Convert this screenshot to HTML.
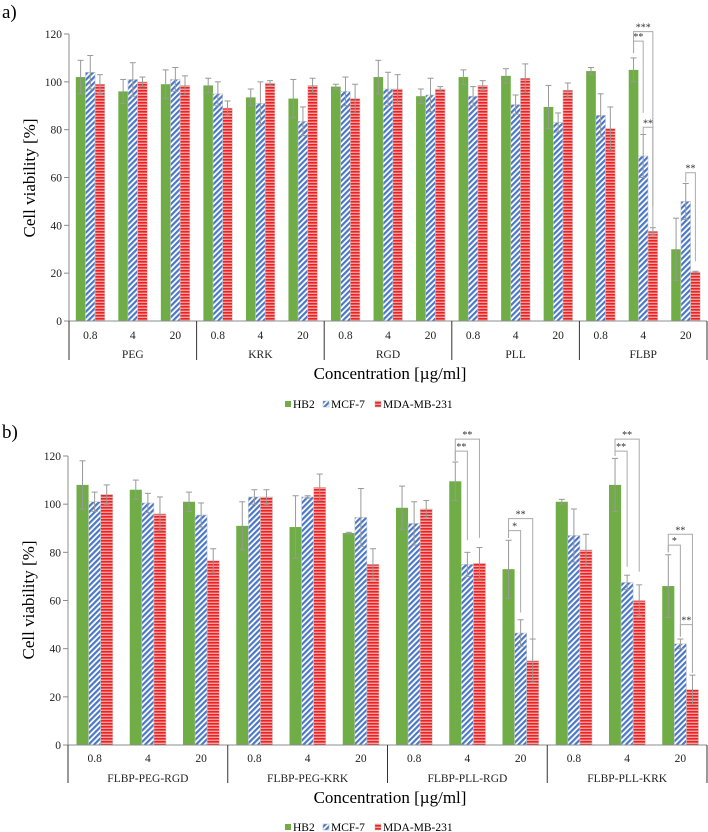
<!DOCTYPE html>
<html><head><meta charset="utf-8">
<style>
html,body{margin:0;padding:0;background:#fff;}
svg, svg text{font-family:"Liberation Serif","DejaVu Serif",serif;}
svg{display:block;}
</style></head>
<body>
<svg id="c" width="708" height="832" viewBox="0 0 708 832" xmlns="http://www.w3.org/2000/svg" font-family="Liberation Serif, DejaVu Serif, serif">
<defs>
<pattern id="pBlue" patternUnits="userSpaceOnUse" width="4" height="4" patternTransform="rotate(45)">
<rect width="4" height="4" fill="#fff"/><rect width="2.2" height="4" fill="#4a78c8"/>
</pattern>
<pattern id="pRed" patternUnits="userSpaceOnUse" width="4" height="3">
<rect width="4" height="3" fill="#f4a0a0"/><rect width="4" height="1.6" fill="#ee2020"/>
</pattern>
</defs>
<text x="2" y="18" font-size="19" font-family="Liberation Serif, serif">a)</text>
<text x="2" y="438" font-size="19" font-family="Liberation Serif, serif">b)</text>
</svg>
<script>
const seriesNames=["HB2","MCF-7","MDA-MB-231"];
const yTicks=[0,20,40,60,80,100,120];
const concLabels=["0.8","4","20"];
const catsA=["PEG","KRK","RGD","PLL","FLBP"];
const hb2A=[102,96,99,98.5,93.5,93,98,102,94,102,102.5,89.5,104.5,105,30];
const hb2ErrA=[7,5,6,3,3.5,8,1,7,3,3,3,9,1.5,5,13];
const mcfA=[104,101,101,95,91,83.5,96,97,94.5,94,90.5,83,86,69,50];
const mcfErrA=[7,7,5,5,9,6,6,7,7,4,4,4,9,9,7.5];
const mdaA=[99,100,98.5,89,99.5,98.5,93,97,97,98.5,101.5,96.5,80.5,37.5,20.5];
const mdaErrA=[4,2,4,3,1,3,6,6,1,2,6,3,9,1.5,0.3];
const sigA=[[13,0,1,117,112,87,"**"],[13,0,2,121,112,48,"***"],[13,1,2,81,78,39,"**"],[14,1,2,62,58,25,"**"]];
const catsB=["FLBP-PEG-RGD","FLBP-PEG-KRK","FLBP-PLL-RGD","FLBP-PLL-KRK"];
const hb2B=[108,106,101,91,90.5,88,98.5,109.5,73,101,108,66];
const hb2ErrB=[10,4,4,10,13,0.3,9,8,12,1,11,13];
const mcfB=[101,100.5,95.5,103,103,94.5,92,75,46.5,87,67.5,42];
const mcfErrB=[4,4,5,3,0.5,12,9,5,5.5,11,3,2];
const mdaB=[104,96,76.5,103,107,75,98,75.5,35,81,60,23];
const mdaErrB=[4,7,5,3,5.5,6.5,3.5,6.5,9,6.5,6.5,6];
const sigB=[[7,0,1,122,118,85,"**"],[7,0,2,127,118,86,"**"],[8,0,1,89,86,55,"*"],[8,0,2,94,86,44,"**"],
[10,0,1,122,120,74,"**"],[10,0,2,127,120,72,"**"],[11,0,1,83,80,45,"*"],[11,0,2,87.5,80,30,"**"],[11,1,2,50,45,30,"**"]];

const NS="http://www.w3.org/2000/svg";
const FF="Liberation Serif, DejaVu Serif, serif";
const svg=document.getElementById('c');
function mk(tag,attrs,parent){const e=document.createElementNS(NS,tag);for(const k in attrs)e.setAttribute(k,attrs[k]);if(tag==='text')e.setAttribute('font-family',FF);(parent||svg).appendChild(e);return e;}
const fills=["#70ad47","url(#pBlue)","url(#pRed)"];

function drawChart(p){
  const g=mk('g',{});
  
  
  const n=p.vals[0].length, gw=(p.right-p.left)/n, bw=gw*0.227;
  const y=v=>p.base-(v/120)*(p.base-p.top);
  const x=(i,b)=>p.left+gw*i+gw/2-1.5*bw+b*bw;
  let ax=mk('line',{x1:p.left,y1:p.top,x2:p.left,y2:p.base,stroke:'#8c8c8c','stroke-width':1},g);
  
  yTicks.forEach(t=>{
    mk('line',{x1:p.left-5,x2:p.left,y1:y(t),y2:y(t),stroke:'#8c8c8c'},g);
    const tx=mk('text',{x:p.left-7,y:y(t)+4,'font-size':11.5,'text-anchor':'end',fill:'#222'},g);
    tx.textContent=t;
    
  });
  const yt=mk('text',{x:0,y:0,'font-size':17,'text-anchor':'middle',transform:`translate(${p.ytx},${p.yty}) rotate(-90)`},g);
  yt.textContent="Cell viability [%]";
  
  for(let i=0;i<n;i++){
    for(let b=0;b<3;b++){
      const v=p.vals[b][i],e=p.errs[b][i];
      const r=mk('rect',{x:x(i,b),y:y(v),width:bw,height:p.base-y(v),fill:fills[b],stroke:b?'#c8c8c8':'none','stroke-width':0.6},g);
      
      
      const cx=x(i,b)+bw/2;
      mk('line',{x1:cx,x2:cx,y1:y(v+e),y2:y(v-e),stroke:'#999','stroke-width':1},g);
      mk('line',{x1:cx-3,x2:cx+3,y1:y(v+e),y2:y(v+e),stroke:'#999','stroke-width':1},g);
      mk('line',{x1:cx-3,x2:cx+3,y1:y(v-e),y2:y(v-e),stroke:'#999','stroke-width':1},g);
    }
    const tl=mk('text',{x:p.left+gw*i+gw/2,y:p.tickY,'font-size':11.5,'text-anchor':'middle',fill:'#222'},g);
    tl.textContent=concLabels[i%3];
    
  }
  mk('line',{x1:p.left,x2:p.right,y1:p.base,y2:p.base,stroke:'#8c8c8c'},g);
  const nc=p.cats.length;
  for(let c=0;c<=nc;c++){
    const sx=p.left+gw*3*c;
    mk('line',{x1:sx,x2:sx,y1:p.base,y2:p.sepB,stroke:'#333','stroke-width':1},g);
    if(c<nc){
      const cl=mk('text',{x:sx+gw*1.5,y:p.catY,'font-size':11.5,'text-anchor':'middle',fill:'#222'},g);
      cl.textContent=p.cats[c];
      
    }
  }
  const xt=mk('text',{x:390,y:p.titleY,'font-size':17,'text-anchor':'middle'},g);
  xt.textContent="Concentration [\u00b5g/ml]";
  
  p.sig.forEach(s=>{
    const [i,b1,b2,lv,l1,l2,lab]=s;
    const x1=x(i,b1)+bw/2,x2=x(i,b2)+bw/2;
    const br=mk('path',{d:`M${x1},${y(l1)}V${y(lv)}H${x2}V${y(l2)}`,fill:'none',stroke:'#aaa','stroke-width':1},g);
    
    const st=mk('text',{x:(x1+x2)/2,y:y(lv)-1,'font-size':10,'text-anchor':'middle',fill:'#333'},g);
    st.textContent=lab;
    
  });
  const lg=mk('g',{},g);
  
  const lx=[285,323,375];
  seriesNames.forEach((s,k)=>{
    const it=mk('g',{},lg);
    
    mk('rect',{x:lx[k],y:p.legY-7,width:6,height:6,fill:fills[k],stroke:k?'#aaa':'none','stroke-width':0.5},it);
    const t=mk('text',{x:lx[k]+8,y:p.legY,'font-size':11.5},it);t.textContent=s;
  });
}
drawChart({name:'chart-a',left:69,right:707,base:321,top:34,vals:[hb2A,mcfA,mdaA],errs:[hb2ErrA,mcfErrA,mdaErrA],cats:catsA,sig:sigA,tickY:339,catY:358,sepB:360,titleY:379,legY:408,ytx:35,yty:178});
drawChart({name:'chart-b',left:68,right:707,base:745,top:456,vals:[hb2B,mcfB,mdaB],errs:[hb2ErrB,mcfErrB,mdaErrB],cats:catsB,sig:sigB,tickY:762,catY:782,sepB:783,titleY:803,legY:831,ytx:34,yty:600});
</script>
</body></html>
